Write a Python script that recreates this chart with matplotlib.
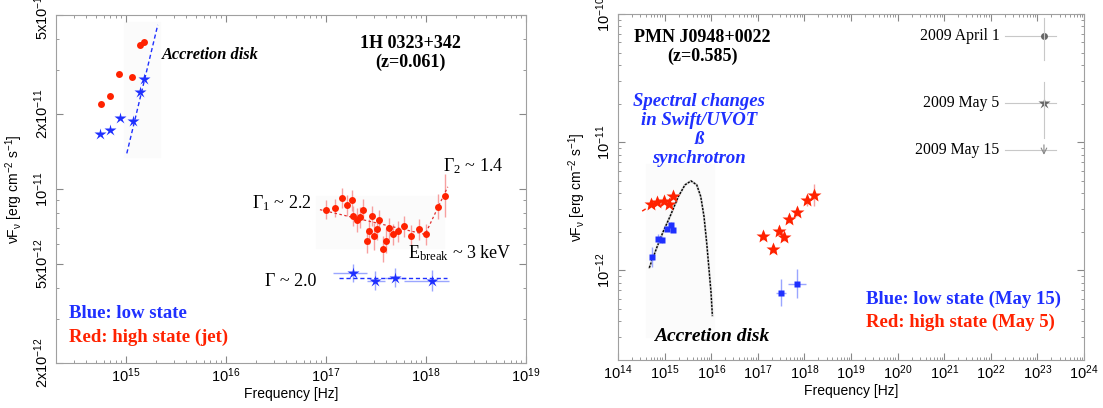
import matplotlib.pyplot as plt
import numpy as np
from matplotlib.patches import Rectangle
from matplotlib.ticker import FixedLocator, LogLocator, NullFormatter

plt.rcParams['font.family'] = ['Liberation Sans', 'DejaVu Sans']
plt.rcParams['mathtext.default'] = 'regular'

RED = '#ff2200'
BLUE = '#1f30ff'
PINK = '#f7a0a0'
LBLUE = '#9aa6ff'
SERIF = ['Liberation Serif', 'DejaVu Serif']

# ---------------- 1H 0323+342 ----------------
opt_high_nu = [5.6e14, 6.9e14, 8.5e14, 1.15e15, 1.38e15, 1.51e15]
opt_high_f = [2.19e-11, 2.36e-11, 2.89e-11, 2.83e-11, 3.80e-11, 3.90e-11]
opt_low_nu = [5.5e14, 6.9e14, 8.7e14, 1.17e15, 1.38e15, 1.51e15]
opt_low_f = [1.67e-11, 1.73e-11, 1.93e-11, 1.88e-11, 2.45e-11, 2.76e-11]
disk_line_nu = [1.02e15, 2.08e15]
disk_line_f = [1.39e-11, 4.56e-11]

xr_high_nu = [1.00e17, 1.23e17, 1.45e17, 1.62e17, 1.82e17, 1.86e17, 2.04e17,
              2.19e17, 2.34e17, 2.57e17, 2.69e17, 2.88e17, 3.02e17, 3.24e17,
              3.39e17, 3.72e17, 3.98e17, 4.27e17, 4.68e17, 5.25e17, 6.03e17,
              7.08e17, 8.51e17, 1.00e18, 1.32e18, 1.55e18]
xr_high_f = [8.26e-12, 8.4e-12, 9.2e-12, 8.6e-12, 9.0e-12, 7.8e-12, 7.5e-12,
             7.7e-12, 8.26e-12, 6.2e-12, 6.75e-12, 7.8e-12, 6.45e-12, 6.88e-12,
             7.5e-12, 5.73e-12, 6.2e-12, 6.94e-12, 6.57e-12, 6.75e-12, 7.07e-12,
             6.5e-12, 6.88e-12, 6.57e-12, 8.49e-12, 9.38e-12]
xr_high_err = [0.09, 0.09, 0.1, 0.1, 0.1, 0.1, 0.12, 0.1, 0.1, 0.12, 0.12, 0.1,
               0.13, 0.1, 0.1, 0.13, 0.12, 0.1, 0.1, 0.1, 0.1, 0.1, 0.1, 0.1,
               0.12, 0.22]
bpl_nu = [8.7e16, 9.8e17, 1.65e18]
bpl_f = [8.26e-12, 6.57e-12, 1.02e-11]

xr_low_nu = [1.86e17, 3.09e17, 4.90e17, 1.15e18]
xr_low_f = [4.6e-12, 4.28e-12, 4.4e-12, 4.28e-12]
xr_low_nu_lo = [1.17e17, 2.57e17, 3.9e17, 6.0e17]
xr_low_nu_hi = [2.57e17, 3.9e17, 6.3e17, 1.7e18]
xr_low_err = [0.09, 0.09, 0.09, 0.1]
pl_low_nu = [1.35e17, 1.62e18]
pl_low_f = [4.4e-12, 4.4e-12]

# ---------------- PMN J0948+0022 ----------------
r_opt_high_nu = [5.13e14, 6.92e14, 9.77e14, 1.23e15, 1.51e15]
r_opt_high_f = [3.31e-12, 3.43e-12, 3.49e-12, 3.31e-12, 3.81e-12]
r_opt_tail_nu = [3.3e14, 4.4e14]
r_opt_tail_f = [2.9e-12, 3.1e-12]
r_opt_low_nu = [5.37e14, 7.24e14, 8.71e14, 1.12e15, 1.38e15, 1.51e15]
r_opt_low_f = [1.28e-12, 1.77e-12, 1.74e-12, 2.12e-12, 2.27e-12, 2.08e-12]
r_opt_low_err = [0.2, 0.08, 0.06, 0.05, 0.05, 0.05]

r_xr_high_nu = [1.27e17, 2.09e17, 2.81e17, 3.60e17, 4.74e17, 6.93e17, 1.12e18, 1.63e18]
r_xr_high_f = [1.87e-12, 1.47e-12, 2.04e-12, 1.82e-12, 2.52e-12, 2.88e-12, 3.53e-12, 3.86e-12]
r_xr_high_err = [0.08, 0.08, 0.08, 0.08, 0.08, 0.08, 0.1, 0.22]
r_xr_low_nu = [3.19e17, 7.05e17]
r_xr_low_f = [6.7e-13, 7.9e-13]
r_xr_low_nu_lo = [2.45e17, 4.5e17]
r_xr_low_nu_hi = [4.1e17, 1.1e18]
r_xr_low_err = [0.28, 0.3]

disk_nu = [4.70e14, 6.76e14, 9.38e14, 1.31e15, 1.97e15, 2.74e15, 3.69e15,
           4.89e15, 5.96e15, 7.00e15, 8.00e15, 8.97e15, 9.91e15, 1.06e16]
disk_f = [1.05e-12, 1.50e-12, 2.02e-12, 2.64e-12, 3.77e-12, 4.65e-12, 4.99e-12,
          4.65e-12, 3.77e-12, 2.64e-12, 1.64e-12, 1.02e-12, 6.71e-13, 4.43e-13]

legend_dates = ['2009 April 1', '2009 May 5', '2009 May 15']


def style_axes(ax):
    ax.set_xscale('log')
    ax.set_yscale('log')
    for s in ax.spines.values():
        s.set_color('#a0a0a0')
        s.set_linewidth(0.8)
    ax.tick_params(which='both', direction='in', top=True, right=True,
                   color='#888888', labelsize=10.5, labelcolor='black')
    ax.tick_params(which='major', length=5)
    ax.tick_params(which='minor', length=2.5)
    ax.tick_params(axis='x', pad=2.5)
    ax.set_xlabel('Frequency [Hz]', fontsize=10)
    ax.set_ylabel(r'$\nu$F$_{\nu}$ [erg cm$^{-2}$ s$^{-1}$]', fontsize=10)


def yerr_of(f, rel):
    f = np.asarray(f)
    rel = np.asarray(rel)
    return [f - f / (1 + rel), f * rel]


fig = plt.figure(figsize=(11.03, 4.08), dpi=100)
ax1 = fig.add_axes([0.0508, 0.1103, 0.4261, 0.853])
ax2 = fig.add_axes([0.5603, 0.1176, 0.4225, 0.848])

# ---- left panel ----
ax1.set_xlim(2e14, 1e19)
ax1.set_ylim(2e-12, 5e-11)
ax1.add_patch(Rectangle((9.6e14, 1.34e-11), 1.25e15, 3.35e-11, color='#fbfbfb', zorder=0))
ax1.add_patch(Rectangle((8.0e16, 5.8e-12), 1.45e18, 3.6e-12, color='#fbfbfb', zorder=0))

ax1.plot(disk_line_nu, disk_line_f, ls=(0, (3, 2)), color=BLUE, lw=1)
ax1.plot(opt_high_nu, opt_high_f, 'o', color=RED, ms=5, mec='none')
ax1.plot(opt_low_nu, opt_low_f, '*', color=BLUE, ms=9, mec='none')

ax1.errorbar(xr_high_nu, xr_high_f, yerr=yerr_of(xr_high_f, xr_high_err), fmt='o',
             color=RED, ms=5, mec='none', ecolor=PINK, elinewidth=1, capsize=0)
ax1.plot(bpl_nu, bpl_f, ls=(0, (2, 2)), color='#e03030', lw=0.9)
xl = np.asarray(xr_low_nu)
ax1.errorbar(xr_low_nu, xr_low_f,
             xerr=[xl - np.asarray(xr_low_nu_lo), np.asarray(xr_low_nu_hi) - xl],
             yerr=yerr_of(xr_low_f, xr_low_err), fmt='*', color=BLUE, ms=9,
             mec='none', ecolor=LBLUE, elinewidth=1, capsize=0)
ax1.plot(pl_low_nu, pl_low_f, ls=(0, (3, 2)), color=BLUE, lw=1)

style_axes(ax1)
yt = [2e-12, 5e-12, 1e-11, 2e-11, 5e-11]
ax1.yaxis.set_major_locator(FixedLocator(yt))
ax1.set_yticklabels(['2x10$^{-12}$', '5x10$^{-12}$', '10$^{-11}$', '2x10$^{-11}$', '5x10$^{-11}$'],
                    rotation=90, va='center')
ax1.yaxis.set_minor_locator(LogLocator(base=10, subs=np.arange(1, 10), numticks=50))
ax1.yaxis.set_minor_formatter(NullFormatter())
ax1.xaxis.set_major_locator(LogLocator(base=10, numticks=20))
ax1.xaxis.set_minor_locator(LogLocator(base=10, subs=np.arange(2, 10), numticks=100))
ax1.xaxis.set_minor_formatter(NullFormatter())
ax1.yaxis.set_label_coords(-0.066, 0.5)
ax1.xaxis.set_label_coords(0.5, -0.068)

ax1.text(0.755, 0.89, '1H 0323+342\n(z=0.061)', transform=ax1.transAxes, ha='center',
         va='center', family=SERIF, fontweight='bold', fontsize=13, linespacing=1.15)
ax1.text(0.226, 0.885, 'Accretion disk', transform=ax1.transAxes, ha='left', va='center',
         family=SERIF, fontweight='bold', fontstyle='italic', fontsize=11.8)
ax1.text(0.823, 0.565, r'Γ$_2$ ~ 1.4', transform=ax1.transAxes, ha='left', va='center',
         family=SERIF, fontsize=13)
ax1.text(0.417, 0.46, r'Γ$_1$ ~ 2.2', transform=ax1.transAxes, ha='left', va='center',
         family=SERIF, fontsize=13)
ax1.text(0.749, 0.315, r'E$_{break}$ ~ 3 keV', transform=ax1.transAxes, ha='left', va='center',
         family=SERIF, fontsize=13)
ax1.text(0.445, 0.235, 'Γ ~ 2.0', transform=ax1.transAxes, ha='left', va='center',
         family=SERIF, fontsize=13)
ax1.text(0.028, 0.141, 'Blue: low state', transform=ax1.transAxes, ha='left', va='center',
         family=SERIF, fontweight='bold', fontsize=13.5, color=BLUE)
ax1.text(0.028, 0.075, 'Red: high state (jet)', transform=ax1.transAxes, ha='left', va='center',
         family=SERIF, fontweight='bold', fontsize=13.5, color=RED)

# ---- right panel ----
ax2.set_xlim(1e14, 1e24)
ax2.set_ylim(2e-13, 1e-10)
ax2.add_patch(Rectangle((4.0e14, 3.0e-13), 1.1e16, 6.5e-12, color='#fbfbfb', zorder=0))

ax2.plot(disk_nu, disk_f, color='#cccccc', lw=1.6, zorder=1)
ax2.plot(disk_nu, disk_f, color='black', ls=(0, (1.5, 1)), lw=1, zorder=2)
ax2.plot(r_opt_tail_nu, r_opt_tail_f, ls=(0, (3, 2)), color=RED, lw=1)
ax2.plot(r_opt_high_nu, r_opt_high_f, '*', color=RED, ms=10, mec='none', zorder=3)
ax2.errorbar(r_opt_low_nu, r_opt_low_f, yerr=yerr_of(r_opt_low_f, r_opt_low_err), fmt='s',
             color=BLUE, ms=5, mec='none', ecolor=LBLUE, elinewidth=1, capsize=0, zorder=3)
ax2.errorbar(r_xr_high_nu, r_xr_high_f, yerr=yerr_of(r_xr_high_f, r_xr_high_err),
             xerr=[np.asarray(r_xr_high_nu) * 0.12, np.asarray(r_xr_high_nu) * 0.14],
             fmt='*', color=RED, ms=10, mec='none', ecolor=PINK, elinewidth=1, capsize=0)
xr = np.asarray(r_xr_low_nu)
ax2.errorbar(r_xr_low_nu, r_xr_low_f,
             xerr=[xr - np.asarray(r_xr_low_nu_lo), np.asarray(r_xr_low_nu_hi) - xr],
             yerr=yerr_of(r_xr_low_f, r_xr_low_err), fmt='s', color=BLUE, ms=5,
             mec='none', ecolor=LBLUE, elinewidth=1, capsize=0)

style_axes(ax2)
ax2.xaxis.set_major_locator(LogLocator(base=10, numticks=20))
ax2.xaxis.set_minor_locator(LogLocator(base=10, subs=np.arange(2, 10), numticks=100))
ax2.xaxis.set_minor_formatter(NullFormatter())
ax2.yaxis.set_major_locator(FixedLocator([1e-12, 1e-11, 1e-10]))
ax2.set_yticklabels(['10$^{-12}$', '10$^{-11}$', '10$^{-10}$'], rotation=90, va='center')
ax2.yaxis.set_minor_locator(LogLocator(base=10, subs=np.arange(2, 10), numticks=100))
ax2.yaxis.set_minor_formatter(NullFormatter())
ax2.yaxis.set_label_coords(-0.064, 0.5)
ax2.xaxis.set_label_coords(0.5, -0.07)

ax2.text(0.181, 0.905, 'PMN J0948+0022\n(z=0.585)', transform=ax2.transAxes, ha='center',
         va='center', family=SERIF, fontweight='bold', fontsize=13, linespacing=1.15)
ax2.text(0.174, 0.665, 'Spectral changes\nin Swift/UVOT\nß\nsynchrotron', transform=ax2.transAxes,
         ha='center', va='center', family=SERIF, fontweight='bold', fontstyle='italic',
         fontsize=13.5, color=BLUE, linespacing=1.15)
ax2.text(0.2, 0.069, 'Accretion disk', transform=ax2.transAxes, ha='center', va='center',
         family=SERIF, fontweight='bold', fontstyle='italic', fontsize=14)
ax2.text(0.532, 0.174, 'Blue: low state (May 15)', transform=ax2.transAxes, ha='left',
         va='center', family=SERIF, fontweight='bold', fontsize=13.5, color=BLUE)
ax2.text(0.532, 0.11, 'Red: high state (May 5)', transform=ax2.transAxes, ha='left',
         va='center', family=SERIF, fontweight='bold', fontsize=13.5, color=RED)

# date key drawn on the panel
key_y = [0.936, 0.743, 0.607]
key_marker = ['o', '*', None]
for lab, yk, mk in zip(legend_dates, key_y, key_marker):
    ax2.text(0.819, yk, lab, transform=ax2.transAxes, ha='right', va='center',
             family=SERIF, fontsize=11.3)
    ax2.plot([0.83, 0.94], [yk, yk], color='#c8c8c8', lw=0.8, transform=ax2.transAxes)
    if mk:
        ax2.plot([0.914], [yk], mk, color='#666666', ms=5 if mk == 'o' else 9,
                 mec='none', transform=ax2.transAxes)
ax2.plot([0.914, 0.914], [0.988, 0.867], color='#c8c8c8', lw=0.8, transform=ax2.transAxes)
ax2.plot([0.914, 0.914], [0.803, 0.642], color='#c8c8c8', lw=0.8, transform=ax2.transAxes)
ax2.annotate('', xy=(0.914, 0.585), xytext=(0.914, 0.63), xycoords='axes fraction',
             arrowprops=dict(arrowstyle='->', color='#888888', lw=0.8))

fig.savefig('out.png', dpi=100)
